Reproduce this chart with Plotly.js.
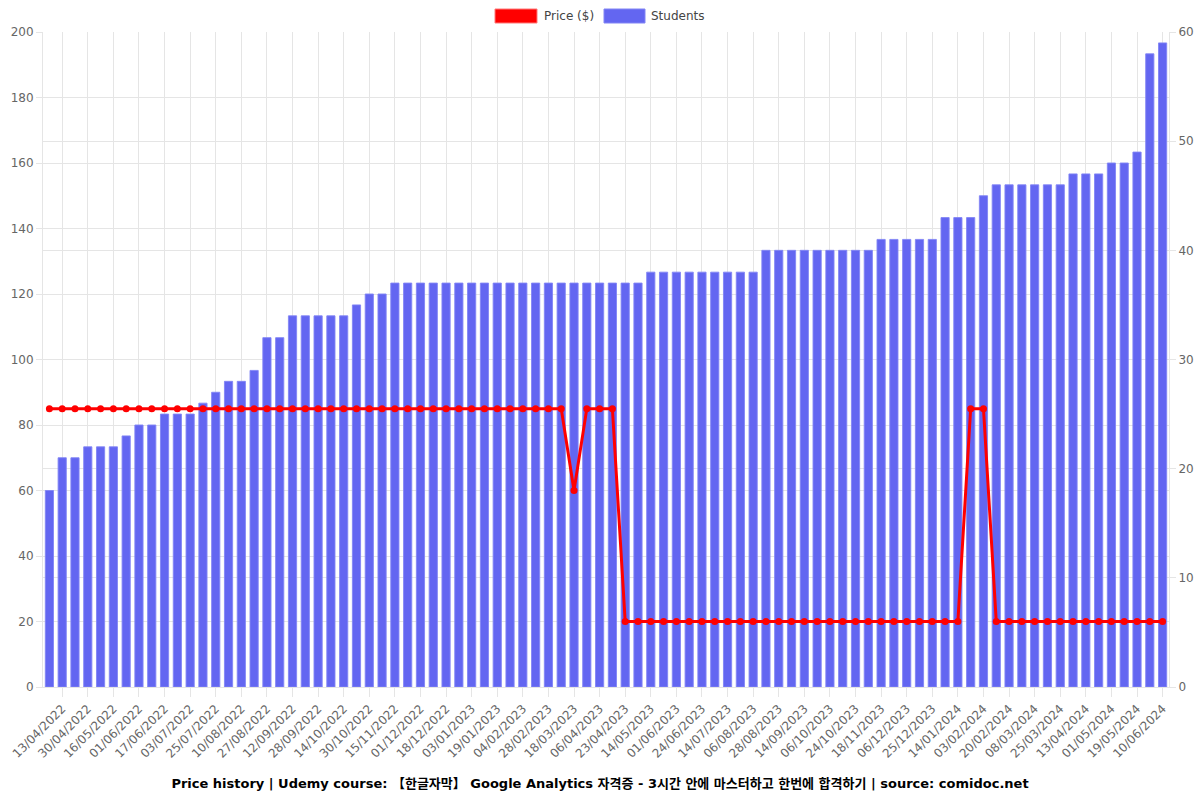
<!DOCTYPE html>
<html>
<head>
<meta charset="utf-8">
<script src="https://cdn.plot.ly/plotly-3.0.1.min.js"></script>
<style>html,body{margin:0;padding:0;background:#fff;}#chart{width:1200px;height:800px;}</style>
</head>
<body>
<div id="chart"></div>
<script>
// Dates (odd entries are the labelled ticks; even entries are estimated in-between dates)
const dates = [
"05/04/2022","13/04/2022","22/04/2022","30/04/2022","08/05/2022","16/05/2022","24/05/2022","01/06/2022",
"09/06/2022","17/06/2022","25/06/2022","03/07/2022","14/07/2022","25/07/2022","02/08/2022","10/08/2022",
"18/08/2022","27/08/2022","04/09/2022","12/09/2022","20/09/2022","28/09/2022","06/10/2022","14/10/2022",
"22/10/2022","30/10/2022","07/11/2022","15/11/2022","23/11/2022","01/12/2022","09/12/2022","18/12/2022",
"26/12/2022","03/01/2023","11/01/2023","19/01/2023","27/01/2023","04/02/2023","16/02/2023","28/02/2023",
"09/03/2023","18/03/2023","27/03/2023","06/04/2023","15/04/2023","23/04/2023","03/05/2023","14/05/2023",
"23/05/2023","01/06/2023","12/06/2023","24/06/2023","04/07/2023","14/07/2023","25/07/2023","06/08/2023",
"17/08/2023","28/08/2023","05/09/2023","14/09/2023","25/09/2023","06/10/2023","15/10/2023","24/10/2023",
"05/11/2023","18/11/2023","27/11/2023","06/12/2023","15/12/2023","25/12/2023","04/01/2024","14/01/2024",
"24/01/2024","03/02/2024","11/02/2024","20/02/2024","29/02/2024","08/03/2024","16/03/2024","25/03/2024",
"04/04/2024","13/04/2024","22/04/2024","01/05/2024","10/05/2024","19/05/2024","30/05/2024","10/06/2024"
];

const students = [
18,21,21,22,22,22,23,24,24,25,25,25,26,27,28,28,
29,32,32,34,34,34,34,34,35,36,36,37,37,37,37,37,
37,37,37,37,37,37,37,37,37,37,37,37,37,37,37,38,
38,38,38,38,38,38,38,38,40,40,40,40,40,40,40,40,
40,41,41,41,41,41,43,43,43,45,46,46,46,46,46,46,
47,47,47,48,48,49,58,59
];

const price = [
85,85,85,85,85,85,85,85,85,85,85,85,85,85,85,85,
85,85,85,85,85,85,85,85,85,85,85,85,85,85,85,85,
85,85,85,85,85,85,85,85,85,60,85,85,85,20,20,20,
20,20,20,20,20,20,20,20,20,20,20,20,20,20,20,20,
20,20,20,20,20,20,20,20,85,85,20,20,20,20,20,20,
20,20,20,20,20,20,20,20
];

const tickLabels = dates.filter((d, i) => i % 2 === 1);

const titleText = "Price history | Udemy course: 【한글자막】 Google Analytics 자격증 - 3시간 안에 마스터하고 한번에 합격하기 | source: comidoc.net";
const legendNames = ["Price ($)", "Students"];
const FONT = "DejaVu Sans, Noto Sans CJK KR, sans-serif";
const GRID = "#e5e5e5";

const traces = [
  {
    type: "bar",
    name: legendNames[1],
    x: dates,
    y: students,
    yaxis: "y",
    marker: {color: "#6366f1", line: {width: 1, color: "rgba(130,133,245,0.9)"}},
    showlegend: false,
    hoverinfo: "x+y"
  },
  {
    type: "scatter",
    mode: "lines+markers",
    name: legendNames[0],
    x: dates,
    y: price,
    yaxis: "y2",
    line: {color: "#ff0000", width: 3},
    marker: {color: "#ff0000", size: 7},
    showlegend: false,
    hoverinfo: "x+y"
  }
];

const layout = {
  width: 1200,
  height: 800,
  margin: {l: 43, r: 31, t: 32, b: 113},
  paper_bgcolor: "#ffffff",
  plot_bgcolor: "#ffffff",
  font: {family: FONT, size: 12, color: "#666666"},
  bargap: 0.36,
  showlegend: false,
  title: {
    text: "<b>" + titleText + "</b>",
    font: {family: FONT, size: 13, color: "#000000"},
    x: 0.5, xanchor: "center",
    y: 0.015, yref: "container", yanchor: "bottom"
  },
  xaxis: {
    type: "category",
    range: [-0.5, dates.length - 0.5],
    tickmode: "array",
    tickvals: tickLabels,
    ticktext: tickLabels,
    tickangle: -45,
    showgrid: true,
    gridcolor: GRID,
    ticks: "outside",
    ticklen: 9,
    tickcolor: GRID,
    showline: true,
    linecolor: GRID,
    zeroline: false,
    tickfont: {family: FONT, size: 12, color: "#666666"}
  },
  yaxis: {
    side: "right",
    range: [0, 60],
    dtick: 10,
    showgrid: true,
    gridcolor: GRID,
    zeroline: false,
    ticks: "outside",
    ticklen: 6,
    tickcolor: GRID,
    showline: true,
    linecolor: GRID,
    tickfont: {family: FONT, size: 12, color: "#666666"}
  },
  yaxis2: {
    overlaying: "y",
    side: "left",
    range: [0, 200],
    dtick: 20,
    showgrid: true,
    gridcolor: GRID,
    zeroline: false,
    ticks: "outside",
    ticklen: 6,
    tickcolor: GRID,
    showline: true,
    linecolor: GRID,
    tickfont: {family: FONT, size: 12, color: "#666666"}
  },
  shapes: [
    {type: "rect", xref: "paper", yref: "paper", x0: (495-43)/1126, x1: (537-43)/1126,
     y0: (687-23)/655, y1: (687-9)/655, fillcolor: "#ff0000", line: {color: "rgba(255,120,120,1)", width: 1}},
    {type: "rect", xref: "paper", yref: "paper", x0: (604-43)/1126, x1: (645-43)/1126,
     y0: (687-23)/655, y1: (687-9)/655, fillcolor: "#6366f1", line: {color: "rgba(130,133,245,1)", width: 1}}
  ],
  annotations: [
    {text: legendNames[0], xref: "paper", yref: "paper", x: (542-43)/1126, y: (687-16)/655,
     xanchor: "left", yanchor: "middle", showarrow: false, font: {family: FONT, size: 12, color: "#444444"}},
    {text: legendNames[1], xref: "paper", yref: "paper", x: (649-43)/1126, y: (687-16)/655,
     xanchor: "left", yanchor: "middle", showarrow: false, font: {family: FONT, size: 12, color: "#444444"}}
  ]
};

Plotly.newPlot("chart", traces, layout, {displayModeBar: false, staticPlot: true});
</script>
</body>
</html>
